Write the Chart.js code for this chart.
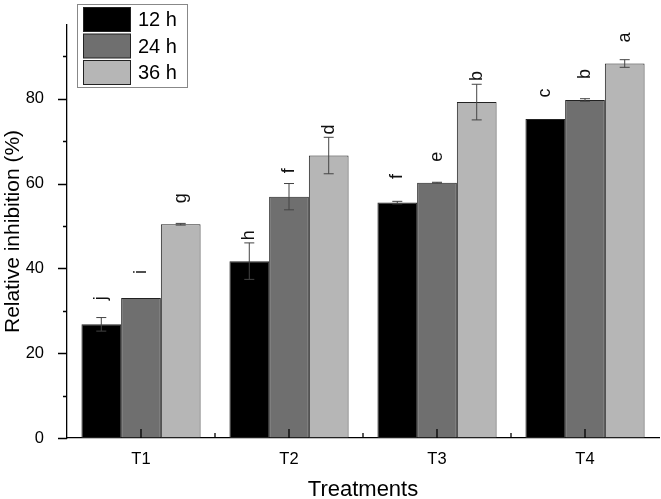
<!DOCTYPE html>
<html>
<head>
<meta charset="utf-8">
<script src="https://cdn.jsdelivr.net/npm/chart.js@4"></script>
<style>
  html, body { margin: 0; padding: 0; background: #fff; }
  #wrap { width: 661px; height: 499px; }
</style>
</head>
<body>
<div id="wrap"><canvas id="chart" width="661" height="499"></canvas></div>
<script>
const treatments = ['T1', 'T2', 'T3', 'T4']
const seriesNames = ['12 h', '24 h', '36 h']
const h12 = [26.8, 41.7, 55.5, 75.2]
const h24 = [33.0, 56.9, 60.2, 79.7]
const h36 = [50.4, 66.6, 79.2, 88.3]
const err12 = [1.6, 4.3, 0.3, 0]
const err24 = [0, 3.1, 0.1, 0.3]
const err36 = [0.2, 4.3, 4.2, 0.9]
const sig12 = ['j', 'h', 'f', 'c']
const sig24 = ['i', 'f', 'e', 'b']
const sig36 = ['g', 'd', 'b', 'a']
const yMajor = [0, 20, 40, 60, 80]
const yMinor = [10, 30, 50, 70, 90]

const FONT = "'Liberation Sans', Arial, sans-serif"
const fills = ['#000000', '#6f6f6f', '#b6b6b6']

const errors = [err12, err24, err36]
const letters = [sig12, sig24, sig36]

// error bars, significance letters, axis ticks and legend
const extras = {
  id: 'extras',
  afterDatasetsDraw(chart) {
    const ctx = chart.ctx
    const y = chart.scales.y
    ctx.save()
    chart.data.datasets.forEach((ds, i) => {
      const meta = chart.getDatasetMeta(i)
      meta.data.forEach((bar, j) => {
        const v = ds.data[j]
        const e = errors[i][j]
        if (e > 0) {
          const top = y.getPixelForValue(v + e)
          const bot = y.getPixelForValue(v - e)
          ctx.strokeStyle = '#444'
          ctx.lineWidth = 1
          ctx.beginPath()
          ctx.moveTo(bar.x, top); ctx.lineTo(bar.x, bot)
          ctx.moveTo(bar.x - 5, top); ctx.lineTo(bar.x + 5, top)
          ctx.moveTo(bar.x - 5, bot); ctx.lineTo(bar.x + 5, bot)
          ctx.stroke()
        }
        ctx.save()
        ctx.translate(bar.x, bar.y - 26)
        ctx.rotate(-Math.PI / 2)
        ctx.fillStyle = '#111'
        ctx.font = '18px ' + FONT
        ctx.textAlign = 'center'
        ctx.textBaseline = 'middle'
        ctx.fillText(letters[i][j], 0, 0)
        ctx.restore()
      })
    })
    ctx.restore()
  },
  afterDraw(chart) {
    const ctx = chart.ctx
    const { left, right, bottom } = chart.chartArea
    const y = chart.scales.y
    const x = chart.scales.x
    ctx.save()
    ctx.strokeStyle = '#000'
    ctx.lineWidth = 1.3
    ctx.beginPath()
    yMajor.forEach(v => {
      const p = Math.round(y.getPixelForValue(v)) + 0.5
      ctx.moveTo(left - 9, p); ctx.lineTo(left, p)
    })
    yMinor.forEach(v => {
      const p = Math.round(y.getPixelForValue(v)) + 0.5
      ctx.moveTo(left - 4, p); ctx.lineTo(left, p)
    })
    treatments.forEach((t, i) => {
      const c = x.getPixelForValue(i)
      ctx.moveTo(c, bottom); ctx.lineTo(c, bottom - 9)
      const b = c + (x.getPixelForValue(1) - x.getPixelForValue(0)) / 2
      if (i < treatments.length - 1) { ctx.moveTo(b, bottom); ctx.lineTo(b, bottom - 5) }
    })
    ctx.stroke()

    // legend
    ctx.fillStyle = '#fff'
    ctx.fillRect(77.5, 4.5, 110, 83)
    ctx.strokeStyle = '#888'
    ctx.lineWidth = 1
    ctx.strokeRect(77.5, 4.5, 110, 83)
    ctx.font = '20px ' + FONT
    ctx.textBaseline = 'middle'
    chart.data.datasets.forEach((ds, i) => {
      const top = 7.5 + i * 26.5
      ctx.fillStyle = ds.backgroundColor
      ctx.fillRect(83.5, top, 47, 24)
      ctx.strokeStyle = '#222'
      ctx.strokeRect(83.5, top, 47, 24)
      ctx.fillStyle = '#000'
      ctx.fillText(ds.label, 138, top + 13)
    })
    ctx.restore()
  }
}

new Chart(document.getElementById('chart'), {
  type: 'bar',
  data: {
    labels: treatments,
    datasets: [
      { label: seriesNames[0], data: h12, backgroundColor: fills[0] },
      { label: seriesNames[1], data: h24, backgroundColor: fills[1] },
      { label: seriesNames[2], data: h36, backgroundColor: fills[2] }
    ].map(d => Object.assign(d, {
      borderColor: '#222',
      borderWidth: 1,
      borderSkipped: false,
      categoryPercentage: 0.805,
      barPercentage: 1.0
    }))
  },
  options: {
    responsive: false,
    animation: false,
    devicePixelRatio: 1,
    layout: { padding: { top: 2, right: 2, bottom: 0, left: 0 } },
    plugins: {
      legend: { display: false },
      tooltip: { enabled: false }
    },
    scales: {
      x: {
        grid: { display: false },
        border: { display: true, color: '#000', width: 1.3 },
        ticks: { color: '#000', padding: 4, font: { family: FONT, size: 16.5 } },
        title: {
          display: true, text: 'Treatments', color: '#000',
          padding: { top: 0, bottom: -4 },
          font: { family: FONT, size: 22 }
        },
        afterFit(scale) { scale.height = 61 }
      },
      y: {
        min: 0,
        max: 97.4,
        grid: { display: false },
        border: { display: true, color: '#000', width: 1.3 },
        afterBuildTicks(scale) { scale.ticks = yMajor.map(v => ({ value: v })) },
        ticks: { color: '#000', padding: 15, font: { family: FONT, size: 16.5 } },
        title: {
          display: true, text: 'Relative inhibition (%)', color: '#000',
          padding: { top: 1, bottom: 2 },
          font: { family: FONT, size: 21 }
        },
        afterFit(scale) { scale.width = 67 }
      }
    }
  },
  plugins: [extras]
})
</script>
</body>
</html>
